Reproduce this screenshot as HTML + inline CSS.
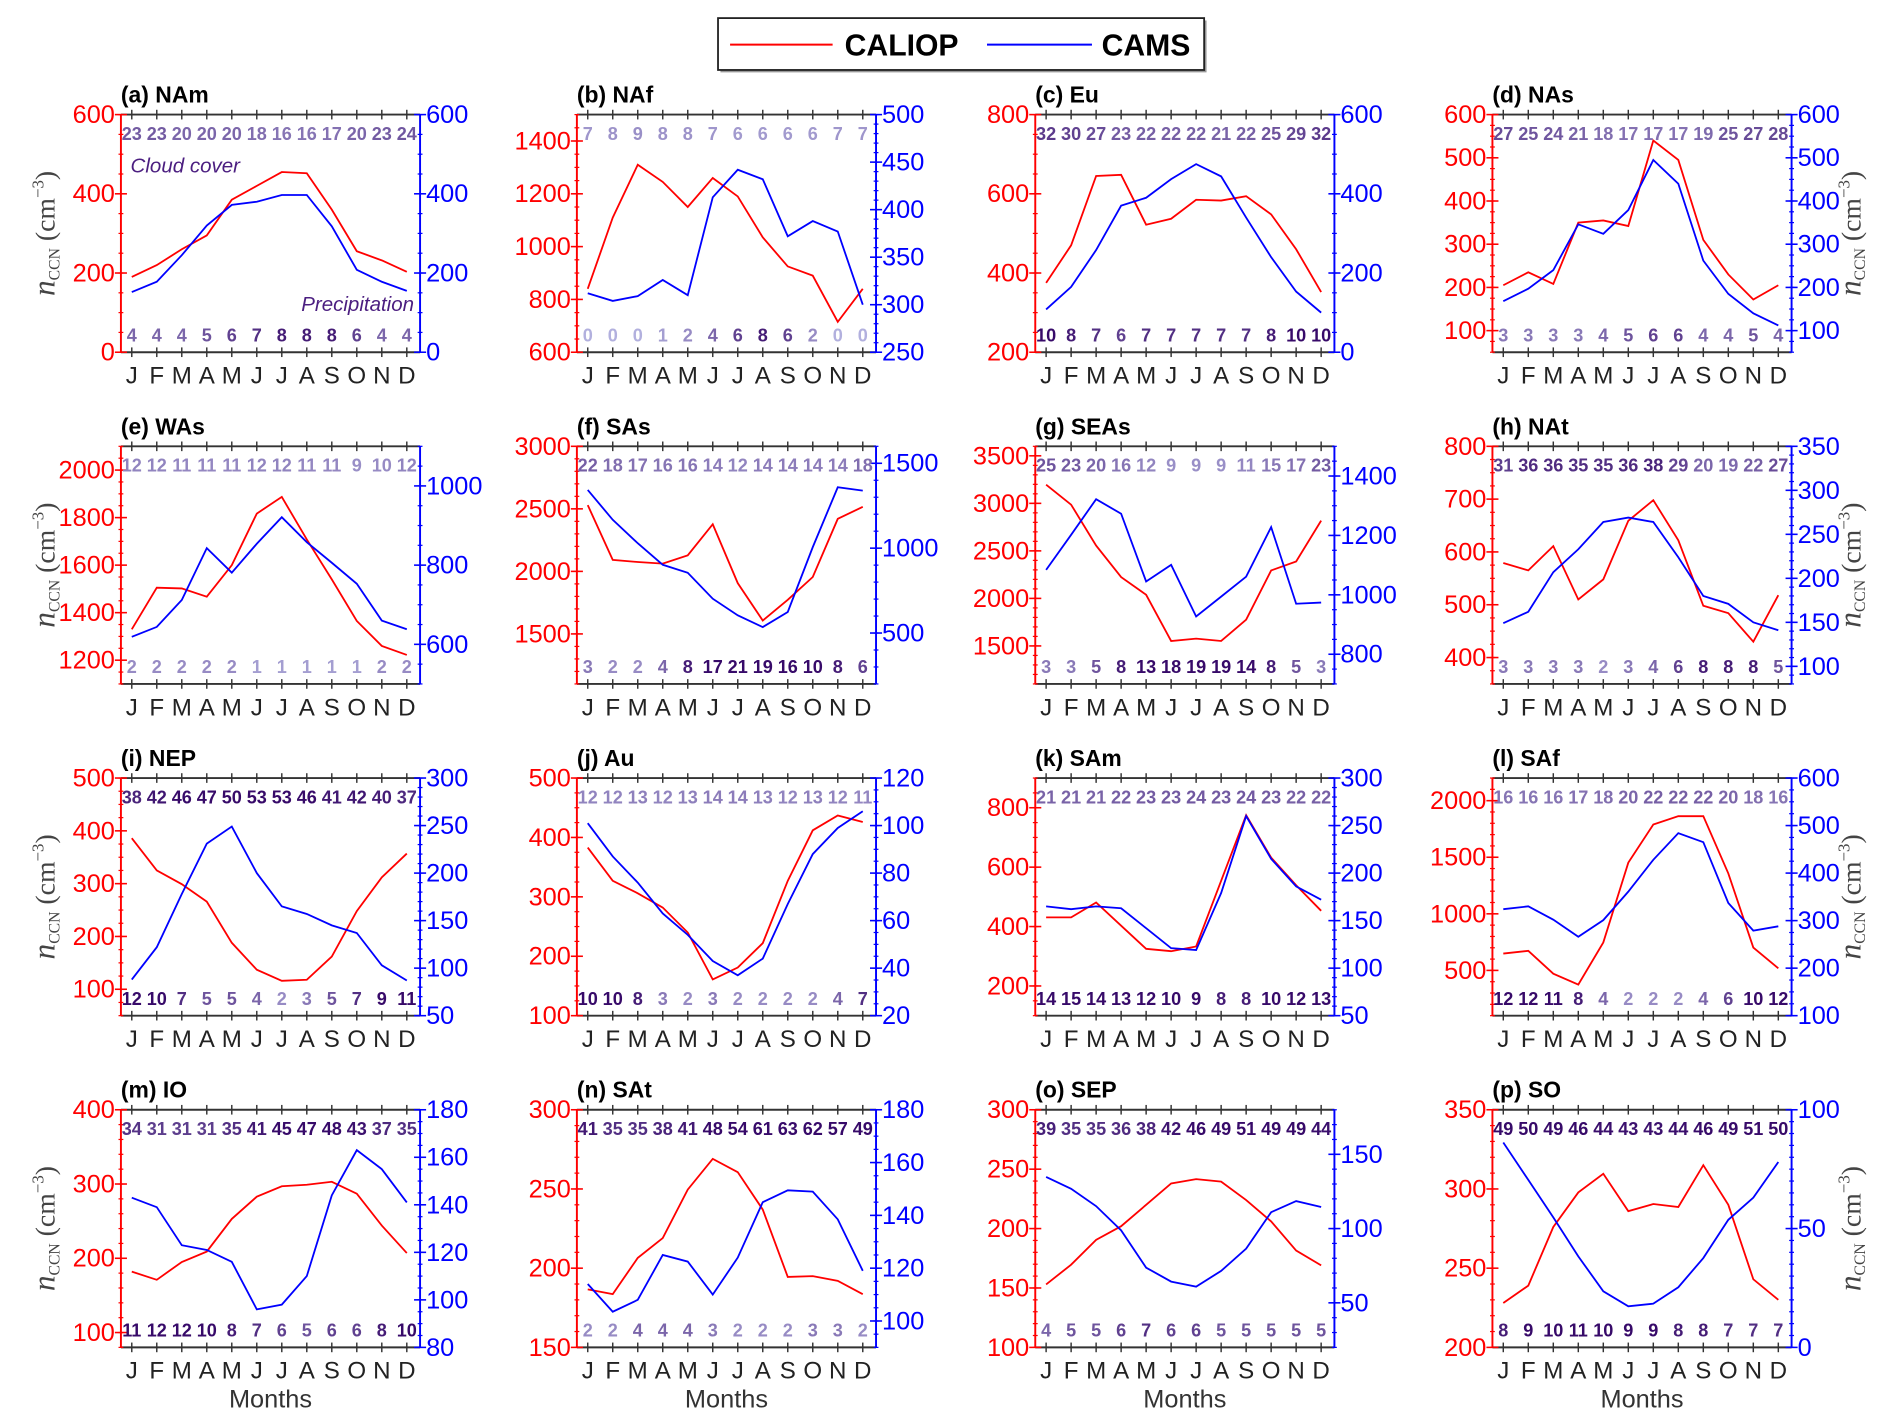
<!DOCTYPE html>
<html><head><meta charset="utf-8">
<style>
html,body{margin:0;padding:0;background:#fff;}
svg{display:block;}
text{font-family:"Liberation Sans Narrow","Liberation Sans",sans-serif;}
</style></head>
<body>
<svg id="fig" width="1892" height="1427" viewBox="0 0 1568 1183" xmlns="http://www.w3.org/2000/svg">
<g>
<rect x="597" y="17" width="403" height="43" fill="#999"/>
<rect x="595" y="15" width="403" height="43" fill="#fff" stroke="#222" stroke-width="1.5"/>
<line x1="605" y1="37" x2="690" y2="37" stroke="#f00" stroke-width="1.6"/>
<text x="700" y="46" font-size="25" font-weight="bold">CALIOP</text>
<line x1="818" y1="37" x2="905" y2="37" stroke="#00f" stroke-width="1.6"/>
<text x="913" y="46" font-size="25" font-weight="bold">CAMS</text>
</g>
</svg>
<script>
const months = ['J','F','M','A','M','J','J','A','S','O','N','D'];
const panelTitles = ['(a) NAm','(b) NAf','(c) Eu','(d) NAs','(e) WAs','(f) SAs','(g) SEAs','(h) NAt','(i) NEP','(j) Au','(k) SAm','(l) SAf','(m) IO','(n) SAt','(o) SEP','(p) SO'];

const caliopA = [190,220,260,295,385,420,455,452,360,255,232,203];
const camsA = [152,178,245,320,372,380,397,397,318,208,178,155];
const cloudA = [23,23,20,20,20,18,16,16,17,20,23,24];
const precipA = [4,4,4,5,6,7,8,8,8,6,4,4];

const caliopB = [840,1110,1310,1245,1150,1260,1190,1035,925,890,715,840];
const camsB = [312,304,309,326,310,413,442,432,372,388,377,300];
const cloudB = [7,8,9,8,8,7,6,6,6,6,7,7];
const precipB = [0,0,0,1,2,4,6,8,6,2,0,0];

const caliopC = [375,470,645,648,522,537,585,583,594,548,460,352];
const camsC = [108,165,258,370,390,437,475,444,340,240,153,100];
const cloudC = [32,30,27,23,22,22,22,21,22,25,29,32];
const precipC = [10,8,7,6,7,7,7,7,7,8,10,10];

const caliopD = [205,235,208,350,355,342,540,495,310,230,172,205];
const camsD = [168,197,240,346,324,379,495,440,262,185,140,112];
const cloudD = [27,25,24,21,18,17,17,17,19,25,27,28];
const precipD = [3,3,3,3,4,5,6,6,4,4,5,4];

const caliopE = [1330,1505,1502,1467,1600,1817,1887,1708,1540,1365,1260,1222];
const camsE = [619,644,712,843,781,854,921,858,806,753,660,638];
const cloudE = [12,12,11,11,11,12,12,11,11,9,10,12];
const precipE = [2,2,2,2,2,1,1,1,1,1,2,2];

const caliopF = [2530,2092,2075,2062,2128,2377,1906,1607,1773,1955,2420,2516];
const camsF = [1343,1167,1029,902,855,702,604,535,624,1006,1359,1339];
const cloudF = [22,18,17,16,16,14,12,14,14,14,14,18];
const precipF = [3,2,2,4,8,17,21,19,16,10,8,6];

const caliopG = [3196,2986,2556,2224,2038,1552,1577,1552,1776,2294,2388,2818];
const camsG = [1084,1202,1322,1273,1045,1101,927,994,1061,1228,970,974];
const cloudG = [25,23,20,16,12,9,9,9,11,15,17,23];
const precipG = [3,3,5,8,13,18,19,19,14,8,5,3];

const caliopH = [579,565,611,510,548,659,698,622,498,484,430,518];
const camsH = [149,162,207,233,264,269,264,224,180,171,150,141];
const cloudH = [31,36,36,35,35,36,38,29,20,19,22,27];
const precipH = [3,3,3,3,2,3,4,6,8,8,8,5];

const caliopI = [386,325,299,266,188,137,116,118,162,248,312,357];
const camsI = [88,122,178,231,249,200,165,157,145,137,103,87];
const cloudI = [38,42,46,47,50,53,53,46,41,42,40,37];
const precipI = [12,10,7,5,5,4,2,3,5,7,9,11];

const caliopJ = [383,327,306,282,240,161,181,222,327,412,437,426];
const camsJ = [101,87,76,63,54,43,37,44,67,88,99,106];
const cloudJ = [12,12,13,12,13,14,14,13,12,13,12,11];
const precipJ = [10,10,8,3,2,3,2,2,2,2,4,7];

const caliopK = [431,431,481,403,325,317,333,554,775,632,539,453];
const camsK = [165,162,165,163,142,121,119,179,260,215,186,172];
const cloudK = [21,21,21,22,23,23,24,23,24,23,22,22];
const precipK = [14,15,14,13,12,10,9,8,8,10,12,13];

const caliopL = [649,673,471,375,747,1452,1789,1863,1863,1357,702,518];
const camsL = [324,330,302,266,301,361,428,484,465,337,279,288];
const cloudL = [16,16,16,17,18,20,22,22,22,20,18,16];
const precipL = [12,12,11,8,4,2,2,2,4,6,10,12];

const caliopM = [182,171,195,209,253,283,297,299,303,287,244,207];
const camsM = [143,139,123,121,116,96,98,110,144,163,155,141];
const cloudM = [34,31,31,31,35,41,45,47,48,43,37,35];
const precipM = [11,12,12,10,8,7,6,5,6,6,8,10];

const caliopN = [186.6,183.6,206.5,219,249.6,269,260.6,237,194.5,195,192,183.6];
const camsN = [114,103.5,108,125,122.5,110,124,145,149.5,149,138.5,119];
const cloudN = [41,35,35,38,41,48,54,61,63,62,57,49];
const precipN = [2,2,4,4,4,3,2,2,2,3,3,2];

const caliopO = [153,169.6,190.5,202,220,238,241.6,239.5,224,206,181.5,169];
const camsO = [134.8,126.8,115.1,98.8,73.7,64.3,60.9,71.5,86.5,111,118.5,114.5];
const cloudO = [39,35,35,36,38,42,46,49,51,49,49,44];
const precipO = [4,5,5,6,7,6,6,5,5,5,5,5];

const caliopP = [228,239,276,297.8,309.6,286,290.5,288.6,315,290,243,230];
const camsP = [86.2,70.5,54.7,38.3,23.6,17.3,18.4,25.3,37.6,53.7,63,78];
const cloudP = [49,50,49,46,44,43,43,44,46,49,51,50];
const precipP = [8,9,10,11,10,9,9,8,8,7,7,7];

const leftTicks = [[0,200,400,600],[600,800,1000,1200,1400],[200,400,600,800],[100,200,300,400,500,600],
 [1200,1400,1600,1800,2000],[1500,2000,2500,3000],[1500,2000,2500,3000,3500],[400,500,600,700,800],
 [100,200,300,400,500],[100,200,300,400,500],[200,400,600,800],[500,1000,1500,2000],
 [100,200,300,400],[150,200,250,300],[100,150,200,250,300],[200,250,300,350]];
const rightTicks = [[0,200,400,600],[250,300,350,400,450,500],[0,200,400,600],[100,200,300,400,500,600],
 [600,800,1000],[500,1000,1500],[800,1000,1200,1400],[100,150,200,250,300,350],
 [50,100,150,200,250,300],[20,40,60,80,100,120],[50,100,150,200,250,300],[100,200,300,400,500,600],
 [80,100,120,140,160,180],[100,120,140,160,180],[50,100,150],[0,50,100]];

const P = [
 {c:caliopA,m:camsA,t:cloudA,b:precipA,L:[0,600],R:[0,600],lm:50,rm:50},
 {c:caliopB,m:camsB,t:cloudB,b:precipB,L:[600,1500],R:[250,500],lm:50,rm:10},
 {c:caliopC,m:camsC,t:cloudC,b:precipC,L:[200,800],R:[0,600],lm:50,rm:50},
 {c:caliopD,m:camsD,t:cloudD,b:precipD,L:[50,600],R:[50,600],lm:25,rm:25},
 {c:caliopE,m:camsE,t:cloudE,b:precipE,L:[1100,2100],R:[500,1100],lm:50,rm:50},
 {c:caliopF,m:camsF,t:cloudF,b:precipF,L:[1100,3000],R:[200,1600],lm:100,rm:100},
 {c:caliopG,m:camsG,t:cloudG,b:precipG,L:[1100,3600],R:[700,1500],lm:100,rm:50},
 {c:caliopH,m:camsH,t:cloudH,b:precipH,L:[350,800],R:[80,350],lm:25,rm:10},
 {c:caliopI,m:camsI,t:cloudI,b:precipI,L:[50,500],R:[50,300],lm:25,rm:10},
 {c:caliopJ,m:camsJ,t:cloudJ,b:precipJ,L:[100,500],R:[20,120],lm:25,rm:5},
 {c:caliopK,m:camsK,t:cloudK,b:precipK,L:[100,900],R:[50,300],lm:50,rm:10},
 {c:caliopL,m:camsL,t:cloudL,b:precipL,L:[100,2200],R:[100,600],lm:100,rm:25},
 {c:caliopM,m:camsM,t:cloudM,b:precipM,L:[80,400],R:[80,180],lm:20,rm:5},
 {c:caliopN,m:camsN,t:cloudN,b:precipN,L:[150,300],R:[90,180],lm:10,rm:5},
 {c:caliopO,m:camsO,t:cloudO,b:precipO,L:[100,300],R:[20,180],lm:10,rm:10},
 {c:caliopP,m:camsP,t:cloudP,b:precipP,L:[200,350],R:[0,100],lm:10,rm:5}
];

const NS='http://www.w3.org/2000/svg';
const svg=document.getElementById('fig');
function mk(tag,attrs,parent){const e=document.createElementNS(NS,tag);for(const k in attrs)e.setAttribute(k,attrs[k]);parent.appendChild(e);return e;}
function mix(a,b,t){return Math.round(a+(b-a)*t);}
function numColor(v,vmax){const t=Math.max(0,Math.min(1,v/vmax));return 'rgb('+mix(178,55,t)+','+mix(176,10,t)+','+mix(222,105,t)+')';}

const colX=[100,478,858,1237], W=248, H=197;
P.forEach((p,i)=>{
  const col=i%4,row=Math.floor(i/4);
  const x0=colX[col], y0=95+275*row;
  const g=mk('g',{},svg);
  
  
  const xs=m=>x0+9+m*(W-20)/11;
  const yL=v=>y0+H-(v-p.L[0])/(p.L[1]-p.L[0])*H;
  const yR=v=>y0+H-(v-p.R[0])/(p.R[1]-p.R[0])*H;
  const tt=mk('text',{x:x0,y:y0-10,'font-size':19,'font-weight':'bold'},g);
  tt.textContent=panelTitles[i];
  
  
  [y0,y0+H].forEach((yy,k)=>{
    const ln=mk('line',{x1:x0,y1:yy,x2:x0+W,y2:yy,stroke:'#333','stroke-width':1.6},g);
    
    
    months.forEach((_,m)=>{mk('line',{x1:xs(m),y1:yy-4,x2:xs(m),y2:yy+4,stroke:'#333','stroke-width':1.2},g);});
  });
  months.forEach((mo,m)=>{
    const t=mk('text',{x:xs(m),y:y0+H+26,'font-size':20,'text-anchor':'middle',fill:'#222'},g);
    t.textContent=mo;
    
    
  });
  const la=mk('line',{x1:x0,y1:y0,x2:x0,y2:y0+H,stroke:'#f00','stroke-width':1.6},g);
  
  
  for(let v=Math.ceil(p.L[0]/p.lm)*p.lm;v<=p.L[1]+1e-9;v+=p.lm){mk('line',{x1:x0-2,y1:yL(v),x2:x0+2,y2:yL(v),stroke:'#f00','stroke-width':1},g);}
  leftTicks[i].forEach(v=>{
    mk('line',{x1:x0-5,y1:yL(v),x2:x0+5,y2:yL(v),stroke:'#f00','stroke-width':1.3},g);
    const t=mk('text',{x:x0-5,y:yL(v)+7,'font-size':21,'text-anchor':'end',fill:'#f00'},g);
    t.textContent=v;
    
    
  });
  const ra=mk('line',{x1:x0+W,y1:y0,x2:x0+W,y2:y0+H,stroke:'#00f','stroke-width':1.6},g);
  
  
  for(let v=Math.ceil(p.R[0]/p.rm)*p.rm;v<=p.R[1]+1e-9;v+=p.rm){mk('line',{x1:x0+W-2,y1:yR(v),x2:x0+W+2,y2:yR(v),stroke:'#00f','stroke-width':1},g);}
  rightTicks[i].forEach(v=>{
    mk('line',{x1:x0+W-5,y1:yR(v),x2:x0+W+5,y2:yR(v),stroke:'#00f','stroke-width':1.3},g);
    const t=mk('text',{x:x0+W+5,y:yR(v)+7,'font-size':21,fill:'#00f'},g);
    t.textContent=v;
    
    
  });
  const ptsC=p.c.map((v,m)=>xs(m)+','+yL(v)).join(' ');
  const lc=mk('polyline',{points:ptsC,fill:'none',stroke:'#f00','stroke-width':1.5},g);
  
  
  const ptsM=p.m.map((v,m)=>xs(m)+','+yR(v)).join(' ');
  const lm=mk('polyline',{points:ptsM,fill:'none',stroke:'#00f','stroke-width':1.5},g);
  
  
  p.t.forEach((v,m)=>{
    const t=mk('text',{x:xs(m),y:y0+21,'font-size':15,'font-weight':'bold','text-anchor':'middle',fill:numColor(v,45)},g);
    t.textContent=v;
    
    
  });
  p.b.forEach((v,m)=>{
    const t=mk('text',{x:xs(m),y:y0+H-9,'font-size':15,'font-weight':'bold','text-anchor':'middle',fill:numColor(v,9)},g);
    t.textContent=v;
    
    
  });
  if(i===0){
    const c1=mk('text',{x:x0+8,y:y0+48,'font-size':17,'font-style':'italic',fill:'#4b1e80'},g);
    c1.textContent='Cloud cover';
    
    
    const c2=mk('text',{x:x0+W-5,y:y0+H-34,'font-size':17,'font-style':'italic','text-anchor':'end',fill:'#4b1e80'},g);
    c2.textContent='Precipitation';
    
    
  }
  if(col===0||col===3){
    const cx=col===0?x0-55:x0+W+57, cy=y0+H/2;
    const yt=mk('text',{x:cx,y:cy,'text-anchor':'middle',transform:'rotate(-90 '+cx+' '+cy+')',fill:'#444',style:'font-family:"Liberation Serif","DejaVu Serif",serif;font-size:23px'},g);
    yt.innerHTML='<tspan font-style="italic" font-size="26">n</tspan><tspan font-size="13" dy="4">CCN</tspan><tspan dy="-4">  (cm</tspan><tspan font-size="14" dy="-9">−3</tspan><tspan dy="9">)</tspan>';
    
    
  }
  if(row===3){
    const mt=mk('text',{x:x0+W/2,y:1167,'font-size':21,'text-anchor':'middle',fill:'#333'},g);
    mt.textContent='Months';
    
    
  }
});
</script>
</body></html>
